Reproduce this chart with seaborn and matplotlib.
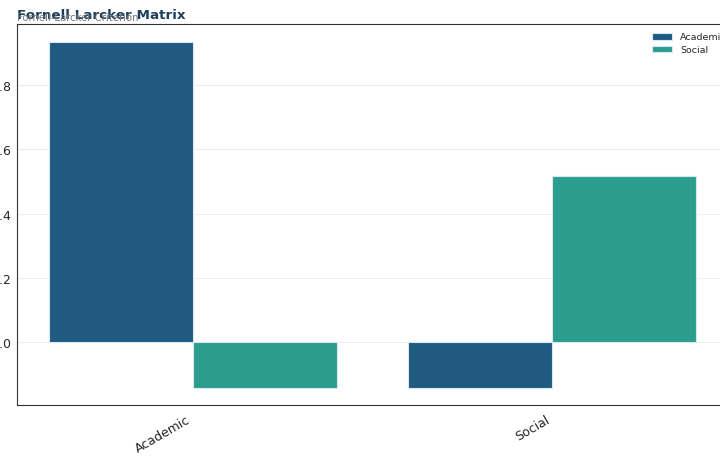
import pandas as pd
import seaborn as sns
import matplotlib.pyplot as plt

constructs = ['Academic', 'Social']
academic = [0.934, -0.143]
social = [-0.143, 0.517]

data = pd.DataFrame({
    'row': constructs * 2,
    'value': academic + social,
    'col': ['Academic'] * 2 + ['Social'] * 2,
})

sns.set_style('white')
plt.rcParams['font.family'] = ['DejaVu Sans']

fig = plt.figure(figsize=(7.2, 4.6), dpi=100)
ax = fig.add_axes([17 / 720, 54 / 460, 718 / 720, 381 / 460])

sns.barplot(data=data, x='row', y='value', hue='col',
            palette=['#1f5a80', '#2a9d8e'], edgecolor='#d8e8ee', linewidth=0.8,
            saturation=1, ax=ax)

ax.set_xlim(-0.49, 1.51)
ax.set_ylim(-0.196, 0.99)
ax.set_xlabel('')
ax.set_ylabel('')
ax.yaxis.grid(True, color='#eeeeee', linewidth=0.8)
ax.set_axisbelow(True)
ax.tick_params(axis='both', labelsize=9, length=3.5, color='#333333')
ax.tick_params(axis='y', pad=0.8)
ax.tick_params(axis='x', pad=2)
plt.setp(ax.get_xticklabels(), rotation=30, ha='right')
ax.spines['right'].set_visible(False)
for s in ['left', 'bottom', 'top']:
    ax.spines[s].set_color('#333333')

ax.legend(frameon=False, fontsize=6.8, loc='upper right', labelspacing=0.4,
          handlelength=2.2, bbox_to_anchor=(1.0, 1.0))

fig.text(17 / 720, 1 - 19 / 460, 'Fornell Larcker Matrix', fontsize=9.7,
         fontweight='bold', color='#1d3f5e')
fig.text(17 / 720, 1 - 21 / 460, 'Fornell-Larcker Criterion', fontsize=7.3,
         color='#777777')

fig.savefig('out.png', dpi=100)
